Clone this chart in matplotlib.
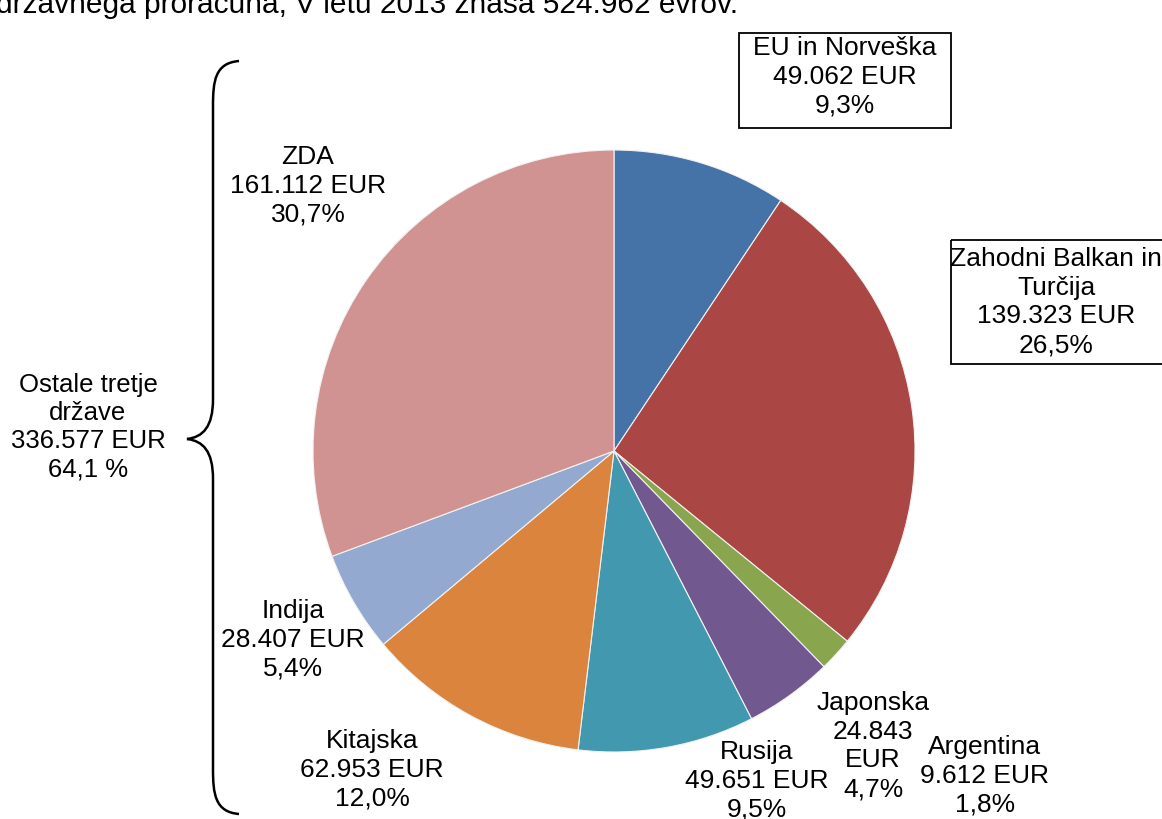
import matplotlib.pyplot as plt
from matplotlib.path import Path
from matplotlib.patches import PathPatch

plt.rcParams['font.family'] = ['Liberation Sans', 'DejaVu Sans']

# data (order: clockwise from 12 o'clock)
regions = ['EU in Norveška', 'Zahodni Balkan in\nTurčija', 'Argentina', 'Japonska',
           'Rusija', 'Kitajska', 'Indija', 'ZDA']
amounts = [49062, 139323, 9612, 24843, 49651, 62953, 28407, 161112]
amount_labels = ['49.062 EUR', '139.323 EUR', '9.612 EUR', '24.843\nEUR',
                 '49.651 EUR', '62.953 EUR', '28.407 EUR', '161.112 EUR']
shares = ['9,3%', '26,5%', '1,8%', '4,7%', '9,5%', '12,0%', '5,4%', '30,7%']
colors = ['#4572A7', '#AA4643', '#89A54E', '#71588F', '#4198AF', '#DB843D', '#93A9CF', '#D19392']

other_name = 'Ostale tretje\ndržave'
other_amount = '336.577 EUR'
other_share = '64,1 %'

W, H = 1162, 819
fig = plt.figure(figsize=(W / 100, H / 100), dpi=100)
ax = fig.add_axes([0, 0, 1, 1])
ax.set_xlim(0, W)
ax.set_ylim(H, 0)
ax.axis('off')

# pie drawn in its own axes so the orientation stays normal
cx, cy, r = 614, 451, 301
pax = fig.add_axes([(cx - r) / W, 1 - (cy + r) / H, 2 * r / W, 2 * r / H])
pax.pie(amounts, colors=colors, startangle=90, counterclock=False,
        wedgeprops=dict(edgecolor='#f2f2f2', linewidth=0.8))
pax.set_xlim(-1, 1)
pax.set_ylim(-1, 1)
pax.set_aspect('equal')
pax.axis('off')

fs = 19
# label positions (pixel centres) - layout only
label_pos = [(845, 77), (1056, 302), (985, 776), (873, 746),
             (757, 781), (372, 770), (293, 640), (308, 186)]

for name, amt, sh, (x, y) in zip(regions, amount_labels, shares, label_pos):
    txt = f'{name}\n{amt}\n{sh}'
    ax.text(x, y, txt, ha='center', va='center', fontsize=fs, linespacing=1.25,
            color='black', zorder=5)

# boxes around the first two labels
ax.add_patch(plt.Rectangle((739, 33), 212, 95, fill=False, edgecolor='black', linewidth=1.3))
ax.add_patch(plt.Rectangle((951, 240), 220, 124, fill=False, edgecolor='black',
                           linewidth=1.3, clip_on=False))

# curly brace for the "other third countries" group
bx, tip_x, tip_y = 213, 187, 439
top_y, bot_y, end_x = 61, 814, 239
verts = [(end_x, top_y), (bx + 2, top_y + 2), (bx, top_y + 20), (bx, top_y + 45),
         (bx, tip_y - 40),
         (bx, tip_y - 12), (bx - 10, tip_y - 2), (tip_x, tip_y),
         (bx - 10, tip_y + 2), (bx, tip_y + 12), (bx, tip_y + 40),
         (bx, bot_y - 45),
         (bx, bot_y - 20), (bx + 2, bot_y - 2), (end_x, bot_y)]
codes = [Path.MOVETO, Path.CURVE4, Path.CURVE4, Path.CURVE4,
         Path.LINETO,
         Path.CURVE4, Path.CURVE4, Path.CURVE4,
         Path.CURVE4, Path.CURVE4, Path.CURVE4,
         Path.LINETO,
         Path.CURVE4, Path.CURVE4, Path.CURVE4]
ax.add_patch(PathPatch(Path(verts, codes), fill=False, edgecolor='black', linewidth=1.8))

ax.text(88, 427, f'{other_name}\n{other_amount}\n{other_share}', ha='center', va='center',
        fontsize=fs - 0.5, linespacing=1.22)

# cut-off sentence at the very top of the page
ax.text(-4, 13, 'državnega proračuna, V letu 2013 znaša 524.962 evrov.', ha='left',
        va='baseline', fontsize=21.5)

fig.savefig('out.png', dpi=100)
